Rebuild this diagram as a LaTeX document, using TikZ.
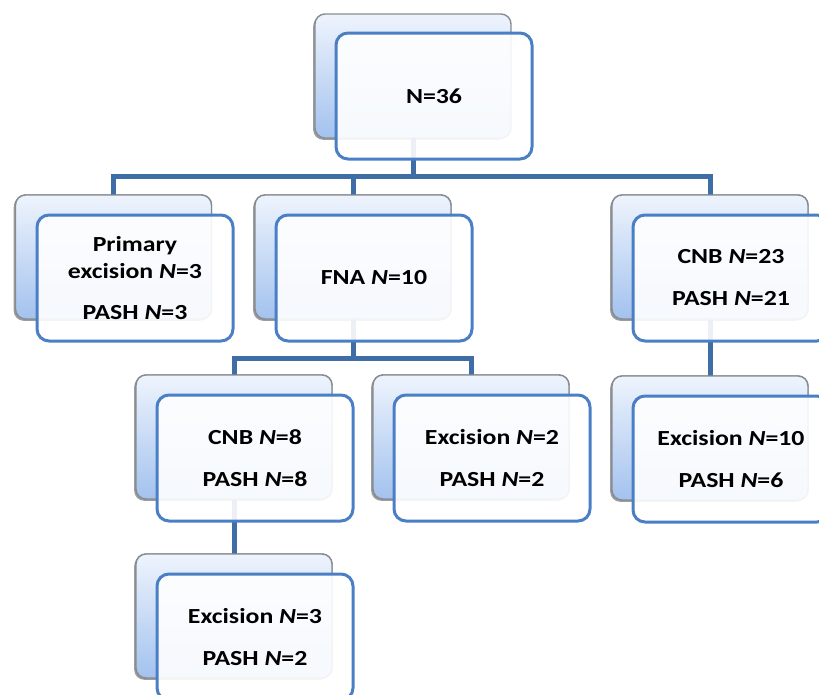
\documentclass[tikz,border=0pt]{standalone}
\usepackage{fontspec}
\setmainfont{Carlito}[FakeStretch=1.2]
\usetikzlibrary{shadows}
\definecolor{conncol}{HTML}{3F6DA6}
\definecolor{frontline}{HTML}{4A7FC6}
\definecolor{backline}{HTML}{878C92}
\definecolor{backtop}{HTML}{EEF4FD}
\definecolor{backbot}{HTML}{A3C2EE}
\begin{document}
\begin{tikzpicture}[x=1pt,y=-1pt,
  backbox/.style={rounded corners=10pt, draw=backline, line width=1.4pt,
    top color=backtop, bottom color=backbot,
    minimum width=196pt, minimum height=124pt, inner sep=0pt, outer sep=0pt,
    drop shadow={shadow xshift=-1.8pt, shadow yshift=-1.8pt, fill=black!70, opacity=0.55}},
  frontbox/.style={rounded corners=12pt, draw=frontline, line width=3pt,
    fill=white, fill opacity=0.9, text opacity=1,
    minimum width=196pt, minimum height=126pt, inner sep=0pt, outer sep=0pt,
    align=center, font=\fontsize{21.5}{27}\selectfont\bfseries},
  conn/.style={draw=conncol, line width=5pt}]
\useasboundingbox (0,0) rectangle (819,694);
\clip (0,0) rectangle (819,694);

% back boxes
\node[backbox] (b0) at (413,76) {};
\node[backbox] (b1) at (113.5,257) {};
\node[backbox] (b2) at (353,257) {};
\node[backbox] (b3) at (710,257) {};
\node[backbox] (b4) at (234,437) {};
\node[backbox] (b5) at (471,437) {};
\node[backbox] (b6) at (710,438) {};
\node[backbox] (b7) at (234,616) {};

% connectors
\coordinate (j0) at (413,176);
\coordinate (j1) at (353,358);
\draw[conn] (b0.south) -- (j0);
\draw[conn] (b1.north) |- (j0) -| (b3.north);
\draw[conn] (b2.north) -- (b2.north |- j0);
\draw[conn] (b2.south) -- (j1);
\draw[conn] (b4.north) |- (j1) -| (b5.north);
\draw[conn] (b3.south) -- (b6.north);
\draw[conn] (b4.south) -- (b7.north);

% redraw back boxes over connector ends
\foreach \b in {b1,b2,b3,b4,b5,b6,b7}{
  \draw[rounded corners=10pt, draw=backline, line width=1.4pt, top color=backtop, bottom color=backbot]
    (\b.south west) rectangle (\b.north east);
}

% front boxes
\node[frontbox] (f0) at (434,96) {N=36};
\node[frontbox] (f1) at (135,278) {Primary\\excision \textit{N}=3\\[14pt]PASH \textit{N}=3};
\node[frontbox] (f2) at (374,278) {FNA \textit{N}=10};
\node[frontbox] (f3) at (731,278) {CNB \textit{N}=23\\[15pt]PASH \textit{N}=21};
\node[frontbox] (f4) at (255,458) {CNB \textit{N}=8\\[15pt]PASH \textit{N}=8};
\node[frontbox] (f5) at (492,458) {Excision \textit{N}=2\\[15pt]PASH \textit{N}=2};
\node[frontbox] (f6) at (731,459) {Excision \textit{N}=10\\[15pt]PASH \textit{N}=6};
\node[frontbox] (f7) at (255,637) {Excision \textit{N}=3\\[15pt]PASH \textit{N}=2};
\end{tikzpicture}
\end{document}
